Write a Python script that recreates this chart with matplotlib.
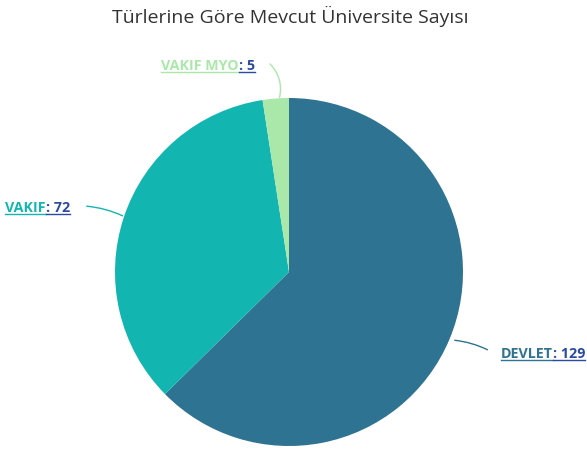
import matplotlib.pyplot as plt
from matplotlib.lines import Line2D
from matplotlib.patches import FancyArrowPatch

labels = ["DEVLET", "VAKIF", "VAKIF MYO"]
values = [129, 72, 5]
colors = ["#2e7391", "#13b5b1", "#aae8aa"]
value_color = "#2a4aa0"

W, H = 587, 449
fig = plt.figure(figsize=(W / 100, H / 100), dpi=100)
fig.patch.set_facecolor("white")

cx, cy, r = 289, 272, 174
ax = fig.add_axes([(cx - r) / W, (H - cy - r) / H, 2 * r / W, 2 * r / H])
ax.pie(values, colors=colors, startangle=90, counterclock=False,
       wedgeprops=dict(linewidth=0), radius=1)
ax.set_xlim(-1, 1)
ax.set_ylim(-1, 1)
ax.axis("off")

fig.text(cx / W + 0.003, 1 - 16 / H, "Türlerine Göre Mevcut Üniversite Sayısı",
         ha="center", va="center", fontsize=14, color="#333333",
         family="Open Sans")


def px(x, y):
    return x / W, 1 - y / H


# label: (left x, center y), connector from slice to label end
label_pos = {
    "DEVLET": (501, 354, [(452, 340), (490, 351)], -0.1),
    "VAKIF": (5, 208, [(125, 217), (84, 206)], 0.1),
    "VAKIF MYO": (161, 66, [(279, 100), (268, 62)], 0.3),
}

fig.canvas.draw()
renderer = fig.canvas.get_renderer()
for name, val, col in zip(labels, values, colors):
    lx, ly, line, rad = label_pos[name]
    t1 = fig.text(*px(lx, ly), name, ha="left", va="center", fontsize=10.3,
                  fontweight="bold", color=col, family="Open Sans")
    bb = t1.get_window_extent(renderer)
    t2 = fig.text(bb.x1 / W, 1 - ly / H, f": {val}", ha="left", va="center",
                  fontsize=10.3, fontweight="bold", color=value_color,
                  family="Open Sans")
    bb2 = t2.get_window_extent(renderer)
    uy = bb.y0 + 1.5
    fig.add_artist(Line2D([bb.x0 / W, bb.x1 / W], [uy / H, uy / H], color=col, lw=1))
    fig.add_artist(Line2D([bb.x1 / W, bb2.x1 / W], [uy / H, uy / H],
                          color=value_color, lw=1))
    (x0, y0), (x1, y1) = line
    fig.add_artist(FancyArrowPatch(
        px(x0, y0), px(x1, y1), transform=fig.transFigure, arrowstyle="-",
        connectionstyle=f"arc3,rad={rad}", color=col, lw=1))

fig.savefig("out.png", dpi=100)
